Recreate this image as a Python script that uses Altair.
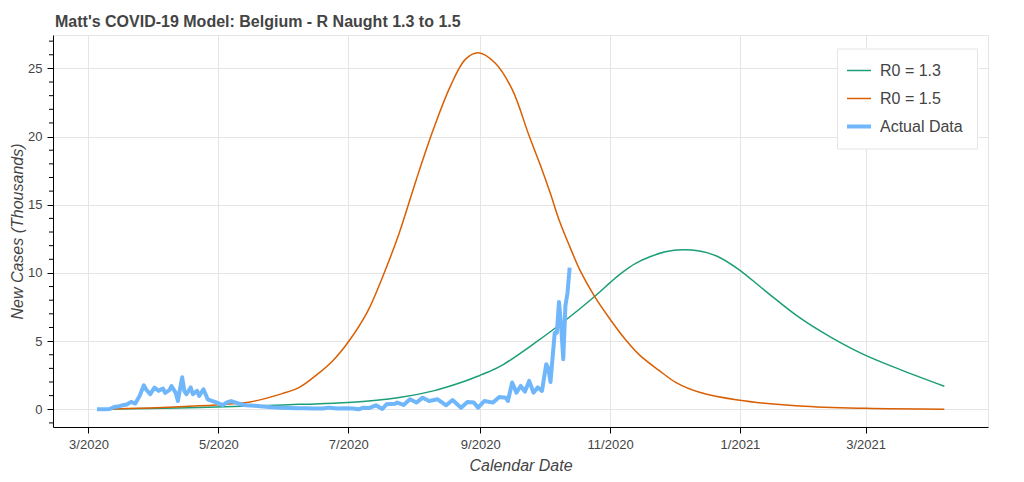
import altair as alt
import pandas as pd

# ---------------- data ----------------
START = "2020-03-01"          # day offsets below count from this date
TITLE = "Matt's COVID-19 Model: Belgium - R Naught 1.3 to 1.5"
SERIES = ["R0 = 1.3", "R0 = 1.5", "Actual Data"]
COLORS = ["#1b9e77", "#d95f02", "#70b6fb"]

# R0 = 1.3 model (thousands of new cases)
r13_day = [4, 29, 52, 76, 99, 122, 146, 162, 177, 184, 188, 195, 210, 223, 238,
           245, 250, 257, 264, 271, 279, 287, 295, 305, 318, 334, 349, 364, 381, 402]
r13_k = [0.01, 0.06, 0.13, 0.24, 0.36, 0.49, 0.86, 1.35, 2.07, 2.5, 2.75, 3.3, 4.9,
         6.4, 8.31, 9.29, 9.95, 10.7, 11.2, 11.55, 11.7, 11.6, 11.24, 10.3, 8.67,
         6.72, 5.26, 4.03, 2.93, 1.69]

# R0 = 1.5 model
r15_day = [4, 29, 52, 65, 76, 91, 99, 107, 115, 122, 131, 138, 146, 154, 162, 170,
           177, 183, 191, 199, 207, 212, 217, 221, 226, 231, 238, 245, 252, 259, 268,
           276, 287, 305, 334, 365, 402]
r15_k = [0.01, 0.1, 0.25, 0.37, 0.54, 1.15, 1.6, 2.5, 3.6, 4.93, 7.15, 9.65, 12.95,
         16.86, 20.53, 23.7, 25.66, 26.15, 25.4, 23.46, 20.04, 18.0, 15.8, 13.9,
         11.95, 10.15, 8.2, 6.6, 5.15, 3.95, 2.85, 1.96, 1.25, 0.68, 0.24, 0.07, 0.01]

# Actual reported data
actual_day = [4, 7, 10, 12, 14, 16, 18, 20, 22, 24, 26, 27, 29, 31, 33, 35, 36, 38,
              39, 41, 42, 44, 45, 46, 48, 49, 51, 52, 54, 56, 58, 60, 63, 65, 67, 70,
              72, 74, 78, 82, 86, 90, 94, 98, 102, 105, 110, 113, 117, 121, 124, 127,
              129, 132, 135, 138, 140, 144, 145, 148, 151, 154, 157, 160, 164, 168,
              171, 175, 178, 181, 183, 186, 190, 193, 196, 197, 199, 201, 203, 205,
              207, 209, 211, 213, 215, 216, 217, 219, 220, 221, 222, 223, 224, 225,
              226]
actual_k = [0.0, 0.0, 0.02, 0.17, 0.2, 0.3, 0.35, 0.54, 0.42, 0.98, 1.76, 1.47, 1.1,
            1.59, 1.35, 1.52, 1.2, 1.4, 1.7, 1.2, 0.61, 2.35, 1.35, 1.1, 1.6, 1.1,
            1.35, 0.98, 1.47, 0.73, 0.61, 0.5, 0.3, 0.5, 0.6, 0.45, 0.35, 0.3, 0.25,
            0.2, 0.15, 0.12, 0.1, 0.07, 0.08, 0.05, 0.05, 0.12, 0.06, 0.07, 0.05, 0.0,
            0.12, 0.1, 0.29, 0.02, 0.37, 0.41, 0.49, 0.32, 0.73, 0.49, 0.85, 0.61,
            0.73, 0.29, 0.68, 0.12, 0.54, 0.49, 0.12, 0.61, 0.49, 0.9, 0.85, 0.61,
            1.96, 1.22, 1.71, 1.3, 2.08, 1.22, 1.6, 1.35, 3.3, 3.0, 2.0, 5.62, 5.62,
            7.87, 6.1, 3.67, 7.57, 8.55, 10.39]

y_ticks = [0, 5, 10, 15, 20, 25]
y_minor = [-1, 1, 2, 3, 4, 6, 7, 8, 9, 11, 12, 13, 14, 16, 17, 18, 19,
           21, 22, 23, 24, 26, 27]
y_domain = [-1.3, 27.45]
x_ticks = [(2020, 3), (2020, 5), (2020, 7), (2020, 9), (2020, 11), (2021, 1), (2021, 3)]

# ---------------- build tables ----------------
def frame(days, vals, name):
    return pd.DataFrame({
        "date": pd.Timestamp(START) + pd.to_timedelta(days, unit="D"),
        "k": vals,
        "series": name,
    })

models = pd.concat([frame(r13_day, r13_k, SERIES[0]), frame(r15_day, r15_k, SERIES[1])],
                   ignore_index=True)
actual = frame(actual_day, actual_k, SERIES[2])
minor_df = pd.DataFrame({"k": y_minor})

FONT = "Liberation Sans"
GREY = "#444444"

x_enc = alt.X(
    "date:T",
    title="Calendar Date",
    scale=alt.Scale(domain=[alt.DateTime(year=2020, month=2, date=13, hours=8),
                            alt.DateTime(year=2021, month=4, date=27, hours=12)]),
    axis=alt.Axis(values=[alt.DateTime(year=y, month=m, date=1) for y, m in x_ticks],
                  format="%-m/%Y", labelOverlap=False, labelFlush=False,
                  titlePadding=6),
)
y_axis = alt.Axis(values=y_ticks, titlePadding=2, labelOverlap=False)
y_scale = alt.Scale(domain=y_domain, nice=False, zero=False)
y_title = "New Cases (Thousands)"

legend = alt.Legend(
    orient="none", legendX=784, legendY=13.5,
    fillColor="white", strokeColor="#e5e5e5", padding=14, rowPadding=12,
    labelOffset=13, labelFontSize=16, labelColor=GREY, labelFont=FONT,
    symbolType="stroke", symbolSize=576,
    symbolStrokeWidth=alt.ExprRef(expr="datum.value == 'Actual Data' ? 4 : 1.5"),
)
color = alt.Color("series:N", scale=alt.Scale(domain=SERIES, range=COLORS),
                  legend=legend, title=None)

minor = alt.Chart(minor_df).mark_rule(color="black", strokeWidth=1).encode(
    y=alt.Y("k:Q", title=y_title, scale=y_scale, axis=y_axis),
    x=alt.value(-4), x2=alt.value(0),
)
model_lines = alt.Chart(models).mark_line(strokeWidth=1.5, interpolate="catmull-rom").encode(
    x=x_enc,
    y=alt.Y("k:Q", title=y_title, scale=y_scale, axis=y_axis),
    color=color,
)
actual_line = alt.Chart(actual).mark_line(strokeWidth=4, strokeJoin="round").encode(
    x=x_enc,
    y=alt.Y("k:Q", title=y_title, scale=y_scale, axis=y_axis),
    color=color,
)

chart = alt.layer(minor, model_lines, actual_line).properties(
    width=935, height=392,
    title=alt.TitleParams(TITLE, anchor="start", frame="group", fontSize=16,
                          fontWeight="bold", color=GREY, font=FONT, offset=8,
                          baseline="alphabetic", dx=2, dy=15.5),
    autosize=alt.AutoSizeParams(type="none"),
    padding={"left": 53, "top": 35, "right": 36, "bottom": 55},
).configure_view(
    stroke="#e5e5e5", strokeWidth=1,
).configure_axis(
    domainColor="black", tickColor="black", gridColor="#e5e5e5",
    labelColor=GREY, titleColor=GREY, labelFont=FONT, titleFont=FONT,
    labelFontSize=13, titleFontSize=16, titleFontStyle="italic",
    titleFontWeight="normal", tickSize=6, labelPadding=5,
    domainWidth=1, tickWidth=1, gridWidth=1,
)

chart.save("out.html", embed_options={"renderer": "svg", "actions": False})
